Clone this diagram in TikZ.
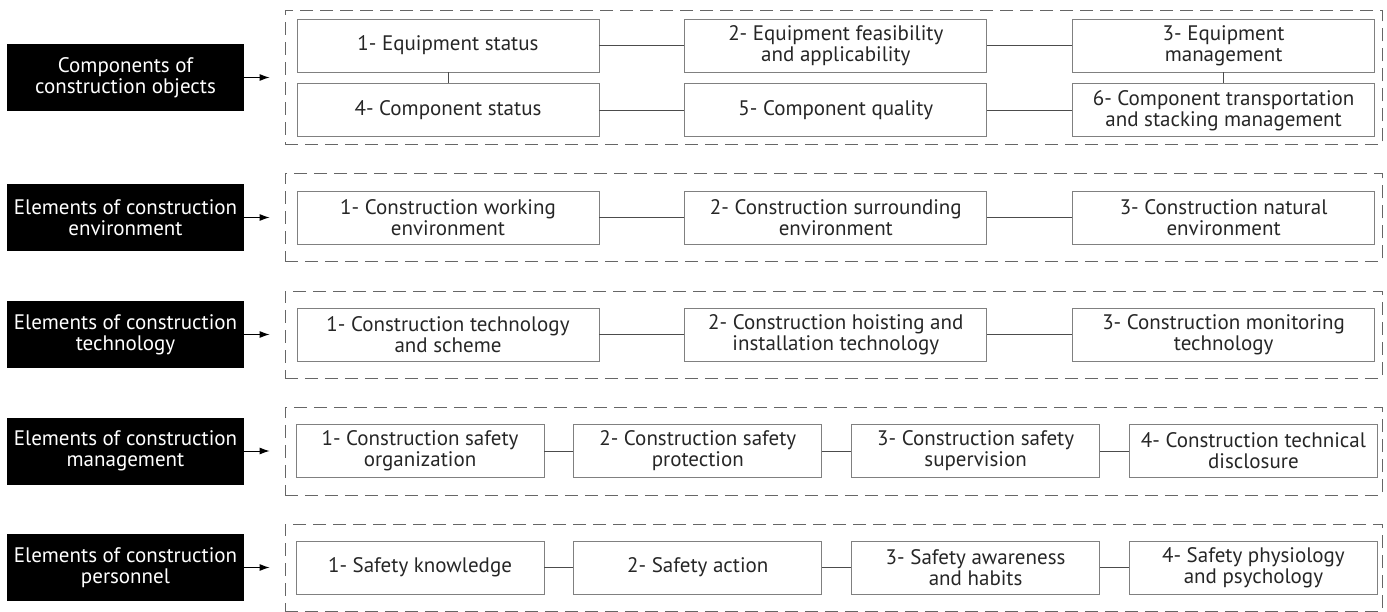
\documentclass[tikz,border=0pt]{standalone}
\usepackage{fontspec}
\setmainfont{PT Sans}
\usetikzlibrary{positioning,arrows.meta}

\begin{document}
\begin{tikzpicture}[x=1pt, y=-1pt,
    every node/.style={font=\fontsize{21}{21}\selectfont, align=center, inner sep=0pt},
    head/.style={fill=black, text=white, minimum width=237pt, minimum height=67pt},
    item/.style={draw=black!50, text=black!85, line width=0.8pt, minimum height=53pt},
    wide/.style={item, minimum width=302pt},
    narrow/.style={item, minimum width=248pt},
    group/.style={draw=black!60, dash pattern=on 13pt off 7pt, line width=0.8pt, minimum width=1097pt},
    link/.style={draw=black!70, line width=0.8pt},
    feed/.style={-{Latex[length=10pt,width=7pt]}, line width=1pt, shorten >=15pt},
    node distance=85pt,
    ]
  \useasboundingbox (0,0) rectangle (1387,612);

  % objects
  \node[group, minimum height=134pt] (grpobj) at (833.5,77.5) {};
  \node[head] (headobj) at (125.5,77.5) {Components of\\construction objects};
  \node[wide] (obj1) at (448,45.5) {1- Equipment status};
  \node[wide, right=of obj1] (obj2) {2- Equipment feasibility\\and applicability};
  \node[wide, right=of obj2] (obj3) {3- Equipment\\management};
  \node[wide, below=11pt of obj1] (obj4) {4- Component status};
  \node[wide, right=of obj4] (obj5) {5- Component quality};
  \node[wide, right=of obj5] (obj6) {6- Component transportation\\and stacking management};

  % environment
  \node[group, minimum height=88pt] (grpenv) at (833.5,217.5) {};
  \node[head] (headenv) at (125.5,217.5) {Elements of construction\\environment};
  \node[wide] (env1) at (448,217.5) {1- Construction working\\environment};
  \node[wide, right=of env1] (env2) {2- Construction surrounding\\environment};
  \node[wide, right=of env2] (env3) {3- Construction natural\\environment};

  % technology
  \node[group, minimum height=87pt] (grptec) at (833.5,334.5) {};
  \node[head] (headtec) at (125.5,334.5) {Elements of construction\\technology};
  \node[wide] (tec1) at (448,334.5) {1- Construction technology\\and scheme};
  \node[wide, right=of tec1] (tec2) {2- Construction hoisting and\\installation technology};
  \node[wide, right=of tec2] (tec3) {3- Construction monitoring\\technology};

  % management
  \node[group, minimum height=88pt] (grpman) at (833.5,451) {};
  \node[head] (headman) at (125.5,451) {Elements of construction\\management};
  \node[narrow] (man1) at (420,451) {1- Construction safety\\organization};
  \node[narrow, right=29pt of man1] (man2) {2- Construction safety\\protection};
  \node[narrow, right=29pt of man2] (man3) {3- Construction safety\\supervision};
  \node[narrow, right=29pt of man3] (man4) {4- Construction technical\\disclosure};

  % personnel
  \node[group, minimum height=87pt] (grpper) at (833.5,567.5) {};
  \node[head] (headper) at (125.5,567.5) {Elements of construction\\personnel};
  \node[narrow] (per1) at (420,567.5) {1- Safety knowledge};
  \node[narrow, right=29pt of per1] (per2) {2- Safety action};
  \node[narrow, right=29pt of per2] (per3) {3- Safety awareness\\and habits};
  \node[narrow, right=29pt of per3] (per4) {4- Safety physiology\\and psychology};

  \draw[link] (obj1) -- (obj2) (obj2) -- (obj3) (obj4) -- (obj5) (obj5) -- (obj6)
    (obj1) -- (obj4) (obj3) -- (obj6)
    (env1) -- (env2) (env2) -- (env3)
    (tec1) -- (tec2) (tec2) -- (tec3)
    (man1) -- (man2) (man2) -- (man3) (man3) -- (man4)
    (per1) -- (per2) (per2) -- (per3) (per3) -- (per4);

  \draw[feed] (headobj) -- (grpobj);
  \draw[feed] (headenv) -- (grpenv);
  \draw[feed] (headtec) -- (grptec);
  \draw[feed] (headman) -- (grpman);
  \draw[feed] (headper) -- (grpper);
\end{tikzpicture}
\end{document}
